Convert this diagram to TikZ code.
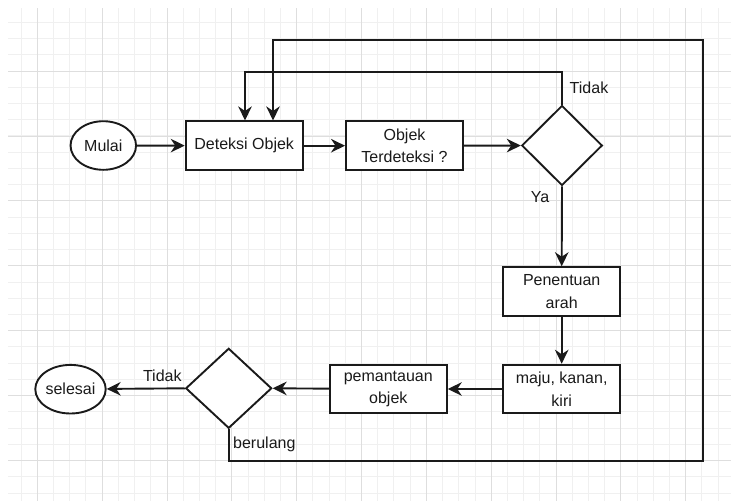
\documentclass[tikz,border=0pt]{standalone}
\usepackage{fontspec}
\setmainfont{Liberation Sans}
\usetikzlibrary{shapes.geometric,arrows.meta}
\definecolor{gridminor}{HTML}{F0F0F0}
\definecolor{gridmajor}{HTML}{DEDEDE}
\definecolor{ink}{HTML}{1A1A1A}
\tikzset{
  txt/.style={font=\fontsize{16}{22.7}\selectfont, text=ink},
  box/.style={txt, draw=ink, line width=1.9pt, fill=white, rectangle,
    minimum width=117pt, minimum height=48.6pt, inner sep=0pt, align=center},
  term/.style={txt, draw=ink, line width=1.9pt, fill=white, ellipse,
    minimum width=65.5pt, minimum height=48.6pt, inner sep=0pt},
  dec/.style={draw=ink, line width=1.9pt, fill=white, diamond, inner sep=0pt,
    minimum height=80pt},
  conn/.style={draw=ink, line width=1.9pt, -{Stealth[length=14pt,width=13.5pt,inset=4.5pt]}},
  lbl/.style={txt, inner sep=0pt},
  gminor/.style={draw=gridminor, line width=0.9pt},
  gmajor/.style={draw=gridmajor, line width=0.9pt}
}
\begin{document}
\begin{tikzpicture}[x=1pt,y=-1pt]
\useasboundingbox (0,0) rectangle (731,501);
\fill[white] (0,0) rectangle (731,501);
% grid
\begin{scope}
\clip (8,8) rectangle (731,501);
\foreach \i in {-1,...,43} {
  \pgfmathsetmacro\xx{37.3+16.21*\i}
  \draw[gminor] (\xx,8) -- (\xx,501);
}
\foreach \i in {-3,...,27} {
  \pgfmathsetmacro\yy{71+16.23*\i}
  \draw[gminor] (8,\yy) -- (731,\yy);
}
\foreach \i in {0,...,10} {
  \pgfmathsetmacro\xx{37.3+64.84*\i}
  \draw[gmajor] (\xx,8) -- (\xx,501);
}
\foreach \i in {-1,...,6} {
  \pgfmathsetmacro\yy{71+64.95*\i}
  \draw[gmajor] (8,\yy) -- (731,\yy);
}
\end{scope}

% nodes
\node[term] (mulai) at (103.3,145.5) {Mulai};
\node[box] (deteksi) at (244.2,145.7) {Deteksi Objek};
\node[box] (objek) at (404.5,145.7) {Objek\\Terdeteksi ?};
\node[dec, minimum width=80.6pt] (d1) at (562,145.5) {};
\node[box] (penentuan) at (561.7,291.5) {Penentuan\\arah};
\node[box] (maju) at (561.7,389) {maju, kanan,\\kiri};
\node[box] (pantau) at (388.3,389) {pemantauan\\objek};
\node[dec, minimum width=86pt] (d2) at (228.7,388.3) {};
\node[term] (selesai) at (70.5,389.2) {selesai};

% connectors
\draw[conn] (mulai) -- (deteksi);
\draw[conn] (deteksi) -- (objek);
\draw[conn] (objek) -- (d1);
\draw[conn] (d1.south) -- (penentuan.north);
\draw[conn] (penentuan) -- (maju);
\draw[conn] (maju) -- (pantau);
\draw[conn] (pantau) -- (d2.east);
\draw[conn] (d2.west) -- (selesai);

\coordinate (t1) at (245,72);
\draw[conn] (d1.north) |- (t1) -- (t1 |- deteksi.north);

\coordinate (b1) at (702.7,460.7);
\coordinate (t2) at (273,40);
\draw[conn] (d2.south) |- (b1) |- (t2) -- (t2 |- deteksi.north);

% labels
\node[lbl] (ltidak1) at (589,87.7) {Tidak};
\node[lbl] (lya) at (540,197) {Ya};
\node[lbl] (ltidak2) at (162.3,375.7) {Tidak};
\node[lbl, anchor=west] (lberulang) at (233,444.3) {berulang};
\end{tikzpicture}
\end{document}
